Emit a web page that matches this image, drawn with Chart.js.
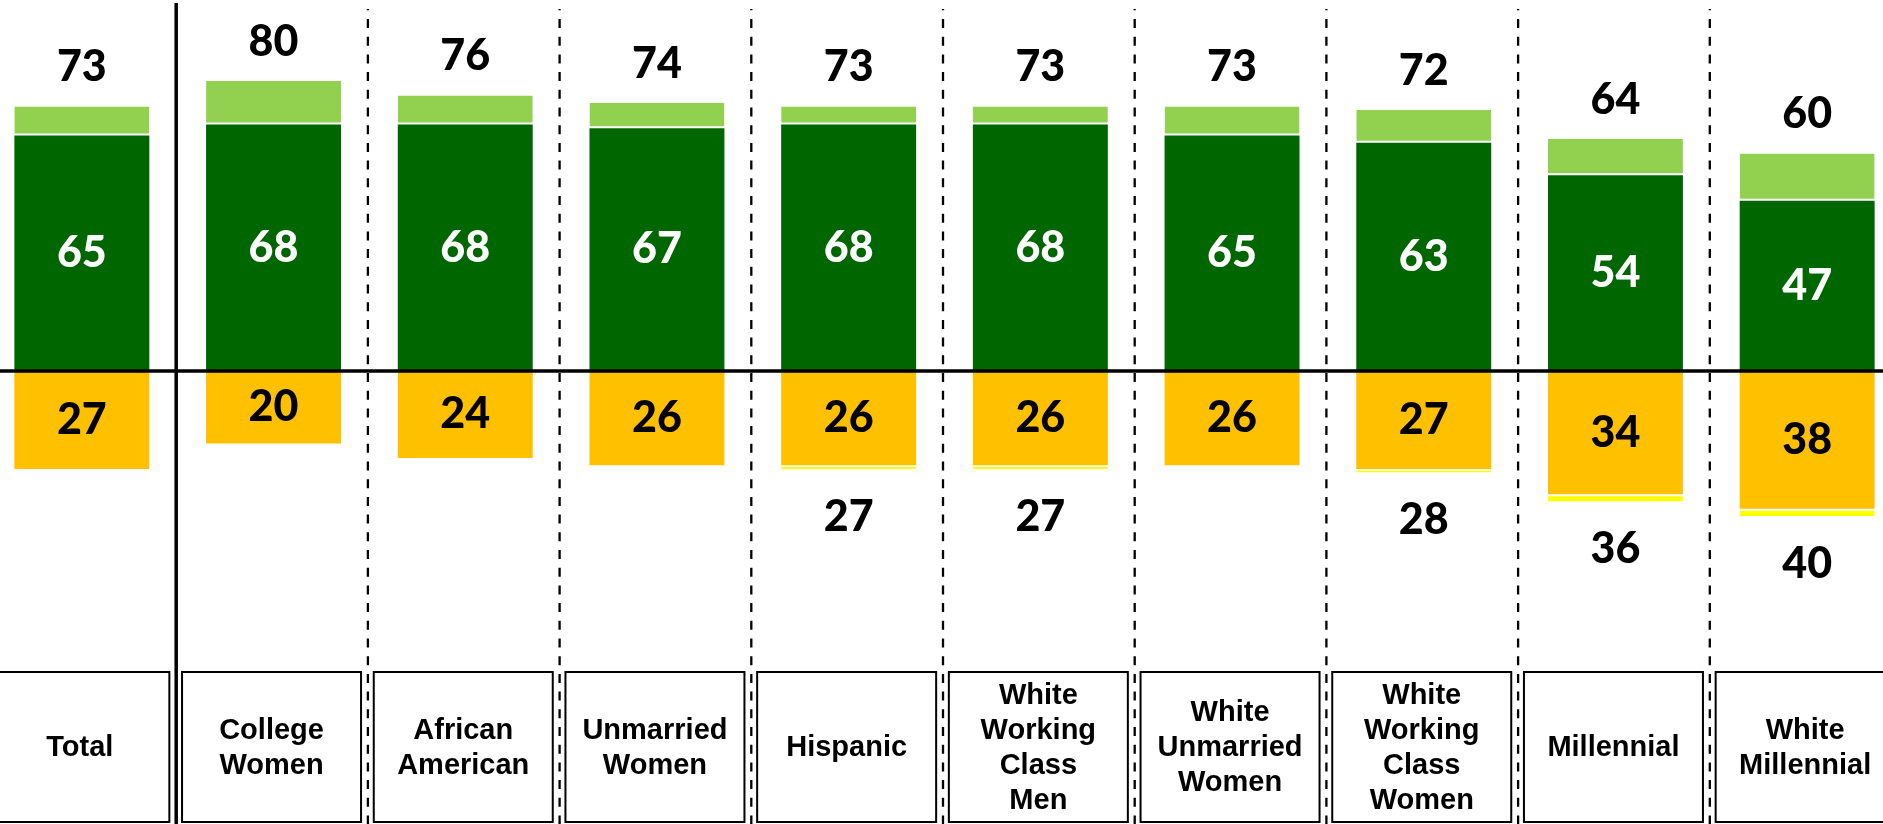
<!DOCTYPE html>
<html>
<head>
<meta charset="utf-8">
<title>Group ratings</title>
<script src="https://cdn.jsdelivr.net/npm/chart.js@4.4.1/dist/chart.umd.min.js"></script>
<style>
  html, body { margin: 0; padding: 0; background: #fff; overflow: hidden; width: 1883px; height: 824px; }
  #wrap { position: absolute; left: -14px; top: 0; width: 1917px; height: 824px; }
</style>
</head>
<body>
<div id="wrap"><canvas id="chart" width="1917" height="824"></canvas></div>
<script>
// category labels, one entry per line of the box text
const categories = [
  ["Total"],
  ["College", "Women"],
  ["African", "American"],
  ["Unmarried", "Women"],
  ["Hispanic"],
  ["White", "Working", "Class", "Men"],
  ["White", "Unmarried", "Women"],
  ["White", "Working", "Class", "Women"],
  ["Millennial"],
  ["White", "Millennial"]
];

// segment values
const positiveCore = [65, 68, 68, 67, 68, 68, 65, 63, 54, 47];
const positiveLean = [8, 12, 8, 7, 5, 5, 8, 9, 10, 13];
const negativeCore = [27, 20, 24, 26, 26, 26, 26, 27, 34, 38];
const negativeLean = [0, 0, 0, 0, 1, 1, 0, 1, 2, 2];

// totals printed above / below the bars
const positiveTotals = [73, 80, 76, 74, 73, 73, 73, 72, 64, 60];
const negativeTotals = [null, null, null, null, 27, 27, null, 28, 36, 40];

const numberFont = "900 43px Lato";
const categoryFont = "bold 29px 'Liberation Sans', Arial, sans-serif";

function drawSeparators(chart) {
  const { ctx } = chart;
  const xScale = chart.scales.x;
  for (let i = 0; i < categories.length - 1; i++) {
    const x = (xScale.getPixelForValue(i) + xScale.getPixelForValue(i + 1)) / 2 - 1.5;
    ctx.beginPath();
    if (i === 0) {
      ctx.setLineDash([]);
      ctx.lineWidth = 3.5;
      ctx.moveTo(x, 3);
    } else {
      ctx.setLineDash([9, 8.7]);
      ctx.lineDashOffset = 7.7;
      ctx.lineWidth = 2.3;
      ctx.moveTo(x, 9);
    }
    ctx.lineTo(x, chart.height);
    ctx.strokeStyle = "#000";
    ctx.stroke();
  }
  ctx.setLineDash([]);
}

function drawZeroLine(chart) {
  const { ctx } = chart;
  const y = chart.scales.y.getPixelForValue(0);
  ctx.beginPath();
  ctx.moveTo(0, y);
  ctx.lineTo(chart.width, y);
  ctx.lineWidth = 3.5;
  ctx.strokeStyle = "#000";
  ctx.stroke();
}

function drawValueLabels(chart) {
  const { ctx } = chart;
  const [core, lean, neg, negLean] = [0, 1, 2, 3].map((i) => chart.getDatasetMeta(i).data);
  ctx.font = numberFont;
  ctx.textAlign = "center";
  ctx.textBaseline = "middle";
  categories.forEach((_, i) => {
    const x = core[i].x;
    ctx.fillStyle = "#fff";
    ctx.fillText(positiveCore[i], x, (core[i].y + core[i].base) / 2);
    ctx.fillStyle = "#000";
    ctx.fillText(negativeCore[i], x, (neg[i].y + neg[i].base) / 2);
    ctx.fillText(positiveTotals[i], x, lean[i].y - 39);
    if (negativeTotals[i] !== null) {
      ctx.fillText(negativeTotals[i], x, negLean[i].y + 48);
    }
  });
}

function drawCategoryBoxes(chart) {
  const { ctx } = chart;
  const xScale = chart.scales.x;
  const boxTop = 672;
  const boxHeight = 150;
  const boxWidth = 179;
  const lineHeight = 35;
  ctx.font = categoryFont;
  ctx.textAlign = "center";
  ctx.textBaseline = "middle";
  categories.forEach((lines, i) => {
    const cx = xScale.getPixelForValue(i) - 2;
    ctx.lineWidth = 2;
    ctx.strokeStyle = "#000";
    ctx.strokeRect(cx - boxWidth / 2, boxTop, boxWidth, boxHeight);
    const mid = boxTop + boxHeight / 2 + 1;
    ctx.fillStyle = "#000";
    lines.forEach((line, j) => {
      ctx.fillText(line, cx, mid + (j - (lines.length - 1) / 2) * lineHeight);
    });
  });
}

const overlayPlugin = {
  id: "overlay",
  afterDatasetsDraw(chart) {
    chart.ctx.save();
    drawSeparators(chart);
    drawZeroLine(chart);
    drawValueLabels(chart);
    drawCategoryBoxes(chart);
    chart.ctx.restore();
  }
};

const barShape = {
  barPercentage: 0.704,
  categoryPercentage: 1,
  borderSkipped: false,
  borderColor: "#fff"
};

new Chart(document.getElementById("chart"), {
  type: "bar",
  data: {
    labels: categories.map((lines) => lines.join(" ")),
    datasets: [
      { ...barShape, label: "core", data: positiveCore, backgroundColor: "#006600", borderWidth: 0 },
      { ...barShape, label: "lean", data: positiveLean, backgroundColor: "#92D050", borderWidth: { bottom: 2 } },
      { ...barShape, label: "negative", data: negativeCore.map((v) => -v), backgroundColor: "#FFC000", borderWidth: 0 },
      { ...barShape, label: "negative lean", data: negativeLean.map((v) => -v), backgroundColor: "#FFFF00", borderWidth: { top: 2 } }
    ]
  },
  options: {
    responsive: false,
    animation: false,
    layout: { padding: { top: 8.5, bottom: 163, left: 0, right: 0 } },
    plugins: {
      legend: { display: false },
      tooltip: { enabled: false }
    },
    scales: {
      x: { stacked: true, display: false },
      y: { stacked: true, display: false, min: -80, max: 100 }
    }
  },
  plugins: [overlayPlugin]
});
</script>
</body>
</html>
